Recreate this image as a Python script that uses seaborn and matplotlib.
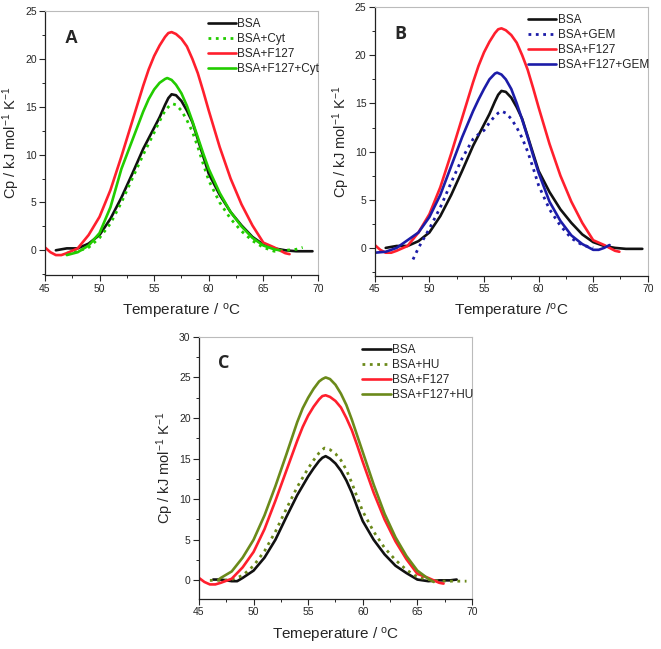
import numpy as np
import pandas as pd
import seaborn as sns
import matplotlib.pyplot as plt
from matplotlib.ticker import MultipleLocator

# ---- data ----
bsa_A_t = [46, 47, 48, 49, 50, 51, 52, 53, 54, 55, 55.5, 56, 56.3, 56.6, 57, 57.5, 58, 58.5, 59, 59.5, 60, 61, 62, 63, 64, 65, 66, 67, 68, 69.5]
bsa_A_cp = [0.0, 0.2, 0.2, 0.7, 1.6, 3.3, 5.5, 8.0, 10.6, 12.8, 13.9, 15.2, 15.9, 16.3, 16.2, 15.6, 14.6, 13.4, 11.6, 9.8, 8.0, 5.8, 4.0, 2.6, 1.4, 0.6, 0.2, 0.0, -0.1, -0.1]

cyt_t = [47, 48, 49, 50, 51, 52, 53, 54, 55, 55.5, 56, 56.4, 56.7, 57, 57.5, 58, 58.5, 59, 59.5, 60, 61, 62, 63, 64, 65, 66, 67, 68, 68.6]
cyt_cp = [-0.3, -0.1, 0.3, 1.3, 2.8, 5.0, 7.5, 10.0, 12.3, 13.5, 14.6, 15.1, 15.3, 15.2, 14.6, 13.6, 12.4, 10.8, 9.0, 7.3, 5.0, 3.3, 2.0, 1.0, 0.3, -0.1, 0.0, 0.1, 0.3]

f127_t = [45, 45.5, 46, 46.5, 47, 48, 49, 50, 51, 52, 53, 54, 54.5, 55, 55.5, 56, 56.3, 56.6, 57, 57.5, 58, 58.5, 59, 59.5, 60, 61, 62, 63, 64, 65, 66, 67, 67.4]
f127_cp = [0.3, -0.2, -0.5, -0.5, -0.3, 0.2, 1.6, 3.5, 6.3, 9.8, 13.5, 17.2, 18.9, 20.3, 21.4, 22.3, 22.7, 22.8, 22.6, 22.1, 21.3, 20.0, 18.5, 16.6, 14.6, 10.8, 7.5, 4.8, 2.6, 0.8, 0.3, -0.3, -0.4]

f127_cyt_t = [47, 48, 49, 50, 51, 52, 53, 54, 54.5, 55, 55.5, 56, 56.2, 56.6, 57, 57.5, 58, 58.5, 59, 59.5, 60, 61, 62, 63, 64, 65, 66, 66.5]
f127_cyt_cp = [-0.5, -0.2, 0.5, 1.8, 4.5, 8.5, 11.5, 14.5, 15.8, 16.8, 17.5, 17.9, 18.0, 17.8, 17.3, 16.4, 15.1, 13.5, 11.8, 10.1, 8.5, 6.0, 4.0, 2.5, 1.3, 0.5, 0.1, 0.0]

gem_t = [48.5, 49, 50, 51, 52, 53, 54, 54.5, 55, 55.5, 56, 56.3, 56.6, 57, 57.5, 58, 58.5, 59, 59.5, 60, 61, 62, 63, 64, 65]
gem_cp = [-1.2, 0.0, 2.0, 4.2, 6.8, 9.3, 11.3, 11.8, 12.2, 13.0, 13.7, 14.0, 14.2, 14.0, 13.4, 12.5, 11.4, 10.0, 8.3, 6.5, 4.0, 2.3, 1.0, 0.3, 0.0]

f127_gem_t = [45, 46, 47, 48, 48.5, 49, 50, 51, 52, 53, 54, 54.5, 55, 55.5, 56, 56.2, 56.6, 57, 57.5, 58, 58.5, 59, 59.5, 60, 61, 62, 63, 64, 65, 65.5, 66, 66.5]
f127_gem_cp = [-0.5, -0.4, 0.0, 0.8, 1.2, 1.6, 3.2, 5.5, 8.5, 11.5, 14.2, 15.4, 16.5, 17.5, 18.1, 18.2, 18.0, 17.5, 16.5, 15.0, 13.3, 11.5, 9.6, 7.8, 4.8, 2.8, 1.3, 0.4, -0.2, -0.2, 0.0, 0.3]

bsa_C_t = [46.3, 47, 48, 48.5, 49, 50, 51, 52, 53, 54, 55, 55.5, 56, 56.3, 56.6, 57, 57.5, 58, 58.5, 59, 59.5, 60, 61, 62, 63, 64, 65, 66, 67, 68, 68.6]
bsa_C_cp = [0.1, 0.1, -0.1, -0.1, 0.3, 1.2, 2.8, 5.0, 7.8, 10.5, 12.8, 13.8, 14.7, 15.1, 15.3, 15.0, 14.4, 13.5, 12.3, 10.8, 9.0, 7.3, 5.0, 3.2, 1.8, 0.9, 0.1, -0.1, 0.0, 0.0, 0.1]

hu_t = [46, 47, 48, 49, 50, 51, 52, 53, 54, 55, 55.5, 56, 56.3, 56.5, 57, 57.5, 58, 58.5, 59, 59.5, 60, 61, 62, 63, 64, 65, 66, 67, 68, 69.5]
hu_cp = [0.0, 0.0, 0.1, 0.6, 1.8, 3.6, 6.0, 8.8, 11.5, 13.8, 14.8, 15.7, 16.1, 16.3, 16.1, 15.6, 14.8, 13.6, 12.0, 10.2, 8.5, 6.0, 4.0, 2.5, 1.3, 0.4, 0.1, -0.1, -0.1, -0.1]

f127_hu_t = [46.8, 47, 48, 49, 50, 51, 52, 53, 54, 54.5, 55, 55.5, 56, 56.3, 56.6, 57, 57.5, 58, 58.5, 59, 59.5, 60, 61, 62, 63, 64, 65, 66, 66.5]
f127_hu_cp = [0.1, 0.3, 1.1, 2.8, 5.0, 8.0, 11.6, 15.5, 19.5, 21.2, 22.5, 23.6, 24.5, 24.8, 25.0, 24.8, 24.1, 23.0, 21.6, 19.8, 17.8, 15.8, 11.8, 8.2, 5.3, 3.0, 1.2, 0.2, -0.2]

BLACK = '#111111'
LIME = '#22cc00'
RED = '#ff1f2d'
BLUE = '#1c1ca8'
OLIVE = '#6b8a1a'

sns.set_style("ticks")
plt.rcParams['font.family'] = ['Liberation Sans', 'DejaVu Sans']
plt.rcParams['mathtext.default'] = 'regular'

fig = plt.figure(figsize=(6.61, 6.49), dpi=100)
axA = fig.add_axes([0.068, 0.576, 0.413, 0.407])
axB = fig.add_axes([0.567, 0.575, 0.413, 0.414])
axC = fig.add_axes([0.301, 0.077, 0.413, 0.404])

def draw(ax, series):
    for t, cp, color, ls, name in series:
        df = pd.DataFrame({'T': t, 'Cp': cp})
        sns.lineplot(data=df, x='T', y='Cp', ax=ax, color=color, linestyle=ls,
                     lw=1.9 if ls == '-' else 2.0, label=name, sort=False)

def style(ax, ylim, ymajor, xlabel, tag, tagfont):
    ax.set_xlim(45, 70)
    ax.set_ylim(*ylim)
    ax.xaxis.set_major_locator(MultipleLocator(5))
    ax.xaxis.set_minor_locator(MultipleLocator(2.5))
    ax.yaxis.set_major_locator(MultipleLocator(ymajor))
    ax.yaxis.set_minor_locator(MultipleLocator(2.5))
    ax.tick_params(which='major', direction='out', length=4, width=0.8, labelsize=7.5, pad=2)
    ax.tick_params(which='minor', direction='out', length=2.5, width=0.7)
    for s in ['left', 'bottom']:
        ax.spines[s].set_color('#222222')
        ax.spines[s].set_linewidth(0.9)
    for s in ['top', 'right']:
        ax.spines[s].set_color('#bbbbbb')
        ax.spines[s].set_linewidth(0.8)
    ax.set_xlabel(xlabel, fontsize=11, labelpad=6)
    ax.set_ylabel('Cp / kJ mol$^{-1}$ K$^{-1}$', fontsize=10.5, labelpad=2)
    ax.text(0.07, 0.88, tag, transform=ax.transAxes, fontsize=13,
            fontweight='bold', family=tagfont)
    ax.legend(frameon=False, loc='upper right', fontsize=8.5, handlelength=2.4,
              handletextpad=0.1, labelspacing=0.25, borderaxespad=0.2,
              bbox_to_anchor=(1.03, 1.0))

draw(axA, [(bsa_A_t, bsa_A_cp, BLACK, '-', 'BSA'),
           (cyt_t, cyt_cp, LIME, ':', 'BSA+Cyt'),
           (f127_t, f127_cp, RED, '-', 'BSA+F127'),
           (f127_cyt_t, f127_cyt_cp, LIME, '-', 'BSA+F127+Cyt')])
style(axA, (-2.6, 25), 5, 'Temperature / $^{o}$C', 'A', ['Liberation Sans'])

draw(axB, [(bsa_A_t, bsa_A_cp, BLACK, '-', 'BSA'),
           (gem_t, gem_cp, BLUE, ':', 'BSA+GEM'),
           (f127_t, f127_cp, RED, '-', 'BSA+F127'),
           (f127_gem_t, f127_gem_cp, BLUE, '-', 'BSA+F127+GEM')])
style(axB, (-2.9, 25), 5, 'Temperature /$^{o}$C', 'B', ['Open Sans'])

draw(axC, [(bsa_C_t, bsa_C_cp, BLACK, '-', 'BSA'),
           (hu_t, hu_cp, OLIVE, ':', 'BSA+HU'),
           (f127_t, f127_cp, RED, '-', 'BSA+F127'),
           (f127_hu_t, f127_hu_cp, OLIVE, '-', 'BSA+F127+HU')])
style(axC, (-2.3, 30), 5, 'Temeperature / $^{o}$C', 'C', ['Open Sans'])

fig.savefig('out.png', dpi=100)
